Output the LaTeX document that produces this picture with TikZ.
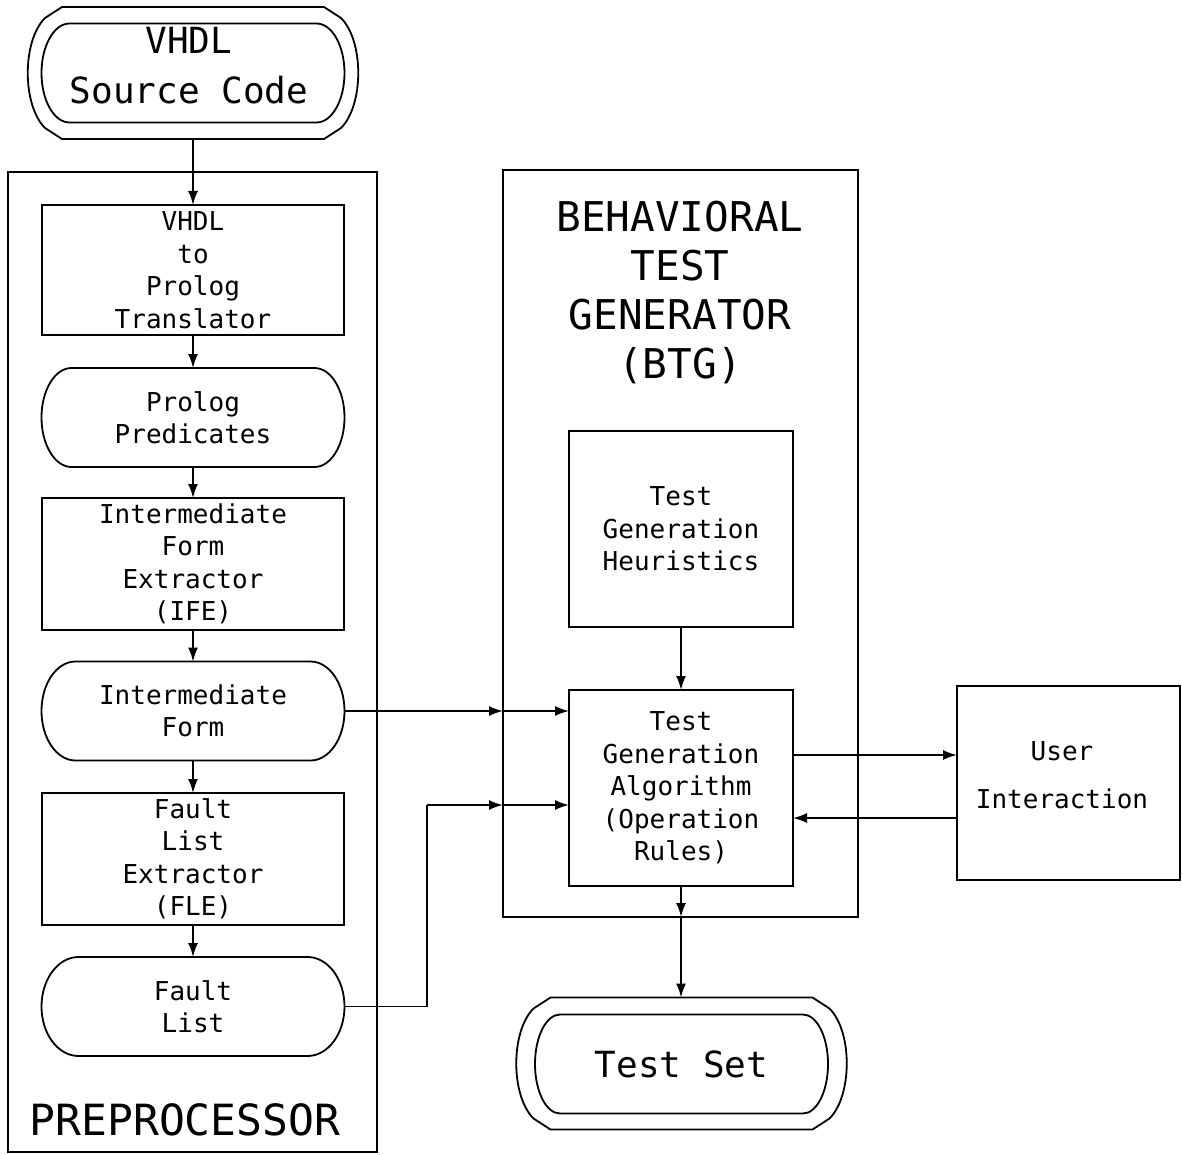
\documentclass[tikz,border=0pt]{standalone}
\usepackage{fontspec}
\setmainfont{DejaVu Sans Mono}
\usetikzlibrary{arrows.meta,calc}
\tikzset{
  every node/.style={inner sep=0pt, outer sep=0pt, font=\fontsize{13}{16.25}\selectfont, align=center},
  box/.style={draw, line width=0.9pt, rectangle},
  term/.style={minimum width=151.5pt, minimum height=49.5pt},
  frame/.style={draw, line width=0.9pt, rectangle},
  arr/.style={line width=0.9pt, -{Latex[length=7pt,width=5pt]}},
  ln/.style={line width=0.9pt},
  bigtext/.style={font=\fontsize{20.5}{24.5}\selectfont},
}
\newcommand\pillshape[2]{%
  \draw[ln] ([xshift=#2]#1.north west) -- ([xshift=-#2]#1.north east)
    arc[start angle=90,end angle=-90,x radius=#2,y radius=24.75pt]
    -- ([xshift=#2]#1.south west)
    arc[start angle=270,end angle=90,x radius=#2,y radius=24.75pt] -- cycle;}
\newcommand\outershape[1]{%
  \draw[ln, shift={(#1.center)}] (-131,-66) -- (131,-66) -- (148,-55)
    .. controls (171,-32) and (171,32) .. (148,55) -- (131,66) -- (-131,66)
    -- (-148,55) .. controls (-171,32) and (-171,-32) .. (-148,-55) -- cycle;}
\begin{document}
\begin{tikzpicture}[x=0.5pt,y=-0.5pt]
\useasboundingbox (0,0) rectangle (1182,1155);

% frames
\node[frame, minimum width=184.5pt, minimum height=490pt] (pre) at (192.5,662) {};
\node[font=\fontsize{21.5}{24}\selectfont] (pretitle) at (185,1120) {PREPROCESSOR};
\node[frame, minimum width=177.5pt, minimum height=373.5pt] (btg) at (680.5,543.5) {};
\node[bigtext] (btgtitle) at (680,292) {BEHAVIORAL\\TEST\\GENERATOR\\(BTG)};

% source
\node[minimum width=167.5pt, minimum height=66pt] (srcout) at (193,73) {};
\node[term] (src) at (193,73) {};
\node[font=\fontsize{18}{25}\selectfont] (srctext) at (189,66) {VHDL\\Source Code};
\outershape{srcout}
\pillshape{src}{14pt}

% preprocessor chain
\node[box, minimum width=151pt, minimum height=65pt] (trans) at (193,270) {VHDL\\to\\Prolog\\Translator};
\node[term] (pp) at (193,417.5) {Prolog\\Predicates};
\pillshape{pp}{15pt}
\node[box, minimum width=151pt, minimum height=66pt] (ife) at (193,564) {Intermediate\\Form\\Extractor\\(IFE)};
\node[term] (intf) at (193,711) {Intermediate\\Form};
\pillshape{intf}{17pt}
\node[box, minimum width=151pt, minimum height=66pt] (fle) at (193,859) {Fault\\List\\Extractor\\(FLE)};
\node[term] (fl) at (193,1006.5) {Fault\\List};
\pillshape{fl}{18.5pt}

% BTG
\node[box, minimum width=112pt, minimum height=98pt] (tgh) at (681,529) {Test\\Generation\\Heuristics};
\node[box, minimum width=112pt, minimum height=98pt] (tga) at (681,788) {Test\\Generation\\Algorithm\\(Operation\\Rules)};
\node[box, minimum width=111.5pt, minimum height=97pt] (user) at (1068.5,783) {};
\node (usertext) at (1062,775) {User\\[7.75pt]Interaction};

% test set
\node[minimum width=163.5pt, minimum height=66pt] (testout) at (681.5,1063.5) {};
\node[term, minimum width=146.5pt, font=\fontsize{18}{22}\selectfont] (test) at (681.5,1064) {Test Set};
\outershape{testout}
\pillshape{test}{12.5pt}

% connectors
\draw[arr] (srcout.south) -- (trans.north);
\draw[arr] (trans.south) -- (pp.north);
\draw[arr] (pp.south) -- (ife.north);
\draw[arr] (ife.south) -- (intf.north);
\draw[arr] (intf.south) -- (fle.north);
\draw[arr] (fle.south) -- (fl.north);

\draw[arr] (intf.east) -- (intf.east -| btg.west);
\draw[arr] (intf.east -| btg.west) -- (intf.east -| tga.west);

\coordinate (flturn) at (427,805);
\draw[ln] (fl.east) -| (flturn);
\draw[arr] (flturn) -- (flturn -| btg.west);
\draw[arr] (flturn -| btg.west) -- (flturn -| tga.west);

\draw[arr] (tgh.south) -- (tga.north);
\draw[arr] (tga.south) -- (tga.south |- btg.south);
\draw[arr] (tga.south |- btg.south) -- (tga.south |- testout.north);

\coordinate (o1) at ([yshift=16.5pt]tga.east);
\coordinate (o2) at ([yshift=-15pt]tga.east);
\draw[arr] (o1) -- (o1 -| user.west);
\draw[arr] (o2 -| user.west) -- (o2);
\end{tikzpicture}
\end{document}
